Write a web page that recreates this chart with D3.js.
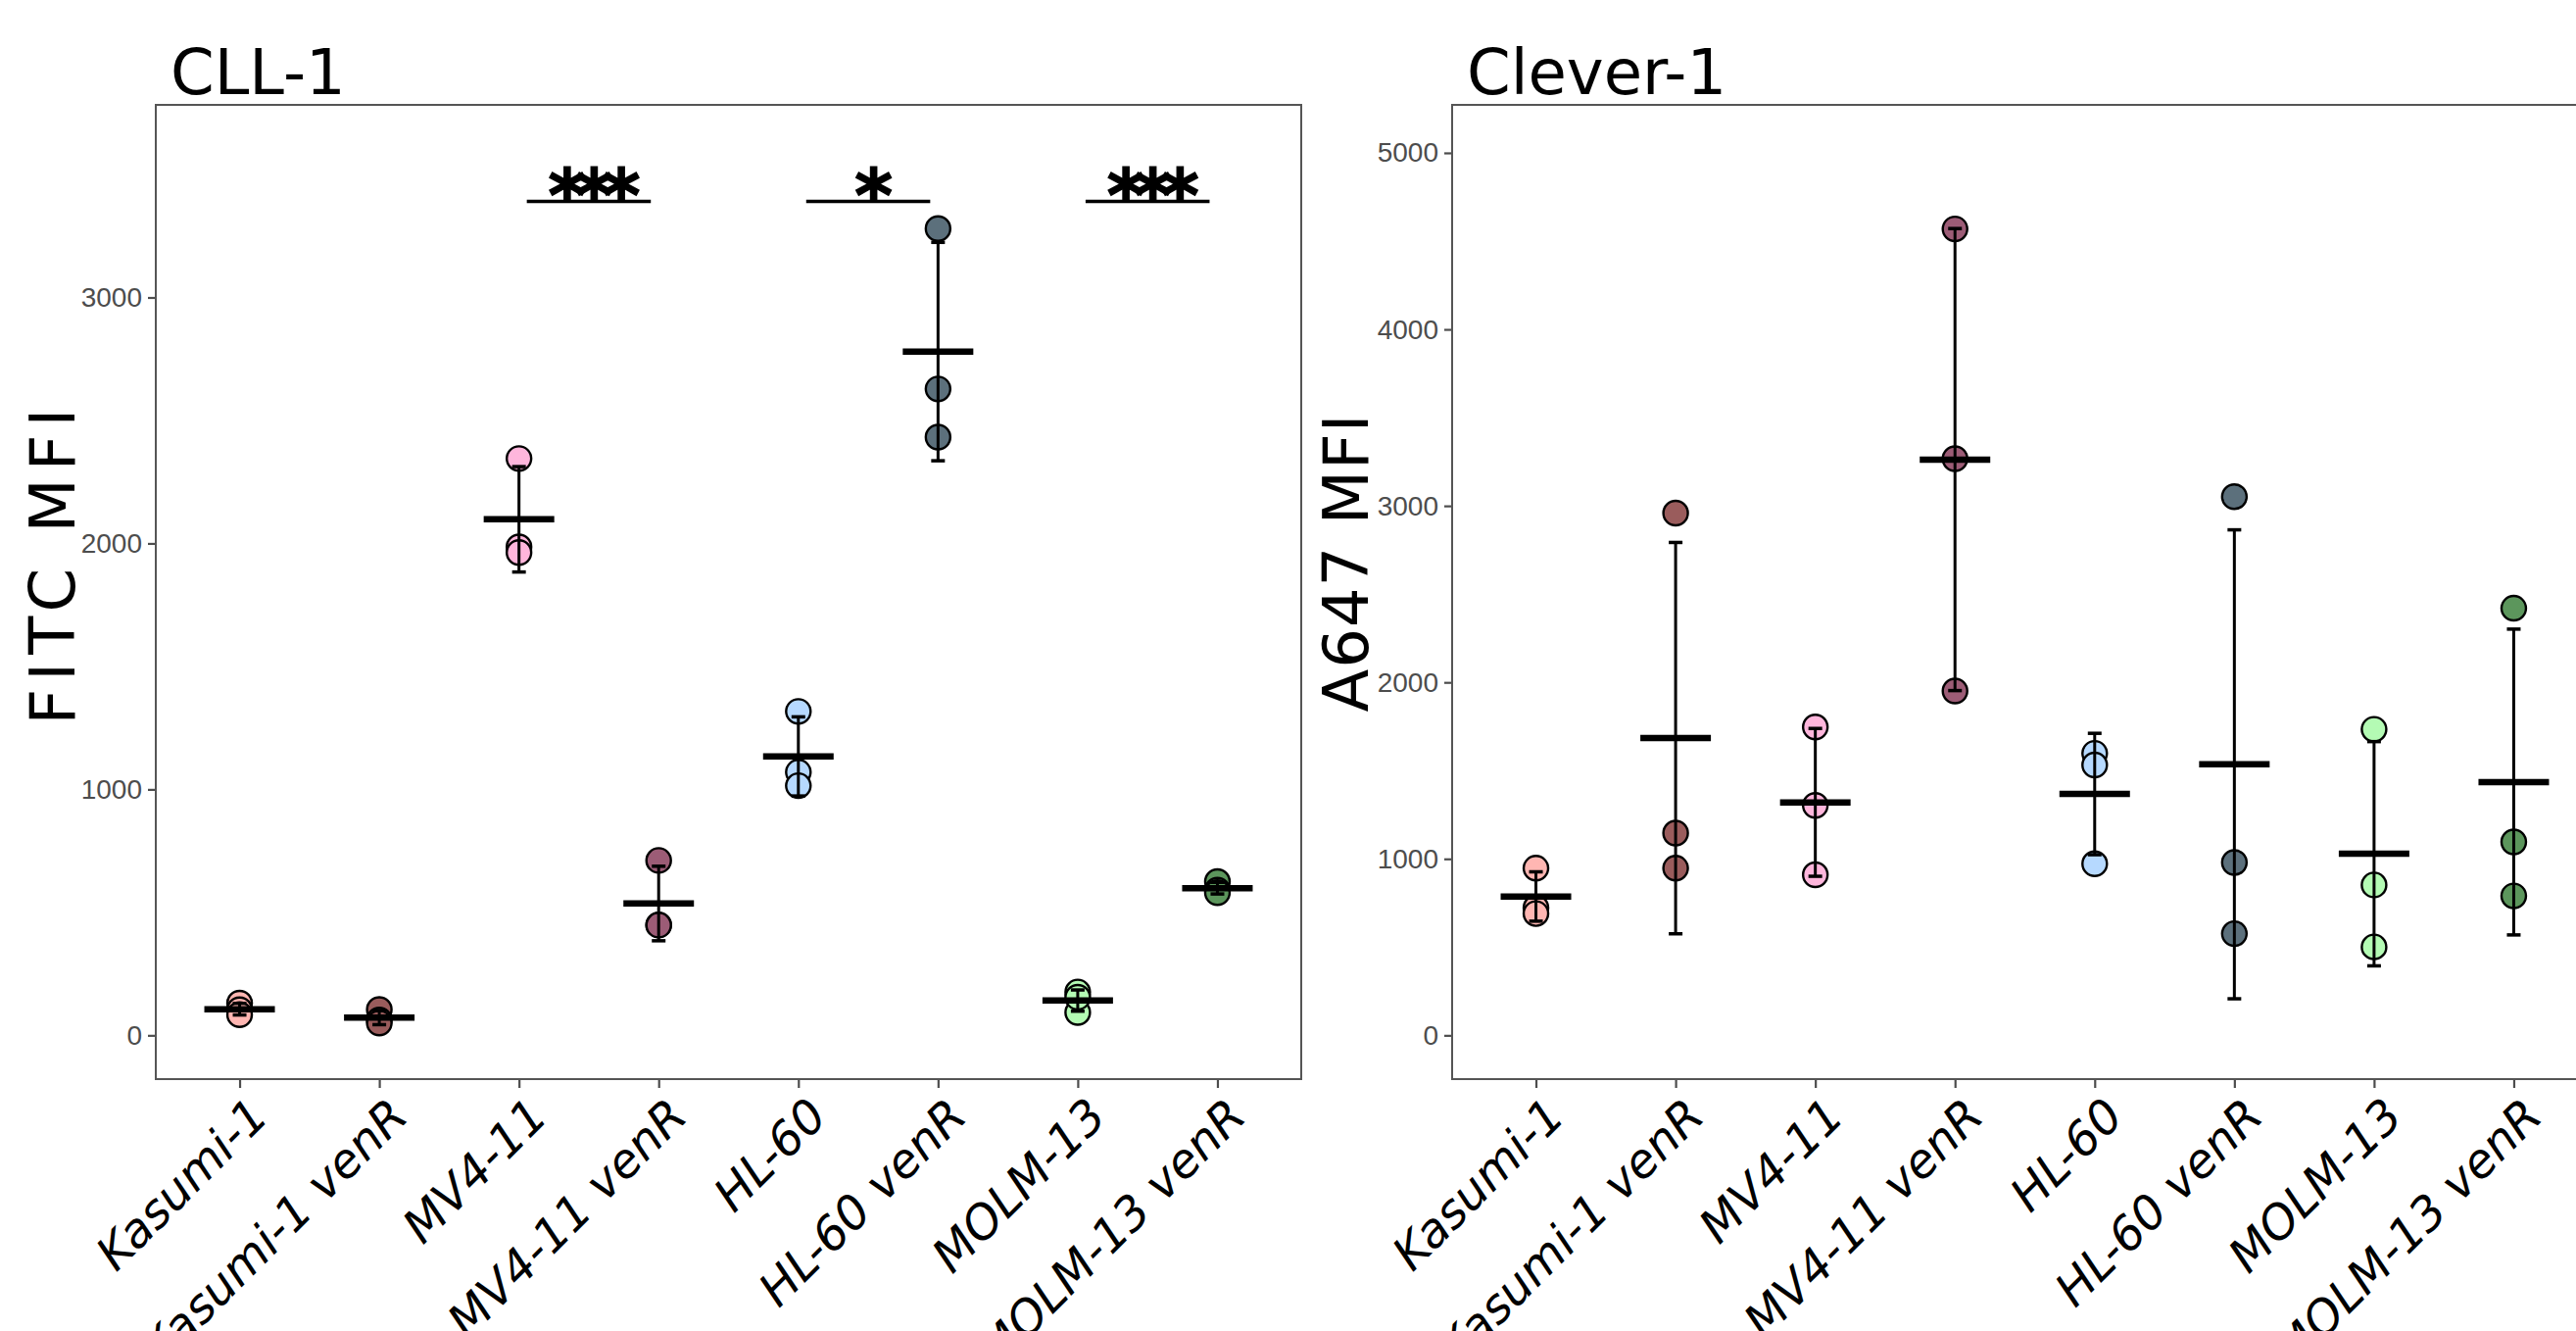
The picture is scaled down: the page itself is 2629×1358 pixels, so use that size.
<!DOCTYPE html>
<html>
<head>
<meta charset="utf-8">
<title>CLL-1 / Clever-1 MFI</title>
<script src="https://d3js.org/d3.v7.min.js"></script>
<style>
  body { margin: 0; background: #fff; }
  svg { display: block; }
</style>
</head>
<body>
<svg id="chart" width="2629" height="1358"></svg>
<script>
// categories and point colours
var categories = ["Kasumi-1", "Kasumi-1 venR", "MV4-11", "MV4-11 venR",
                  "HL-60", "HL-60 venR", "MOLM-13", "MOLM-13 venR"];
var colors = ["#ffb6b2", "#9a5c5c", "#ffb6dc", "#9c5c76",
              "#b6d9ff", "#5c707c", "#b4fbb4", "#5c965c"];

// replicate values (3 per line)
var cll1Values = [
  [131, 104, 84],
  [105, 62, 50],
  [2345, 1986, 1963],
  [711, 449, 448],
  [1317, 1070, 1015],
  [3280, 2628, 2432],
  [176, 93, 155],
  [625, 590, 580]
];
var clever1Values = [
  [947, 723, 690],
  [2959, 1146, 947],
  [1747, 1303, 910],
  [4569, 3267, 1951],
  [1598, 1532, 972],
  [3052, 979, 576],
  [1734, 852, 501],
  [2420, 1096, 790]
];

var cll1Ticks = [0, 1000, 2000, 3000];
var clever1Ticks = [0, 1000, 2000, 3000, 4000, 5000];

// significance brackets on CLL-1
var cll1Signif = [
  {from: "MV4-11", to: "MV4-11 venR", y: 3390, label: "***"},
  {from: "HL-60", to: "HL-60 venR", y: 3390, label: "*"},
  {from: "MOLM-13", to: "MOLM-13 venR", y: 3390, label: "***"}
];

var svg = d3.select("#chart");
svg.append("rect").attr("width", 2629).attr("height", 1358).attr("fill", "#fff");

var plotTop = 107, plotBottom = 1101;

function drawPanel(opt) {
  var g = svg.append("g");

  var x = d3.scalePoint()
    .domain(categories)
    .range([opt.left, opt.right])
    .padding(0.6);

  var y = d3.scaleLinear()
    .domain(opt.domain)
    .range([plotBottom, plotTop]);

  // y axis
  var yAxis = g.append("g")
    .attr("transform", "translate(" + opt.left + ",0)")
    .call(d3.axisLeft(y).tickValues(opt.ticks).tickSize(8).tickPadding(6).tickFormat(d3.format("d")));
  yAxis.select(".domain").remove();
  yAxis.selectAll(".tick line").attr("stroke", "#4d4d4d").attr("stroke-width", 2.2);
  yAxis.selectAll(".tick text")
    .attr("fill", "#4d4d4d")
    .attr("font-family", "Liberation Sans, Arial, sans-serif")
    .attr("font-size", 28);

  // x axis
  var xAxis = g.append("g")
    .attr("transform", "translate(0," + plotBottom + ")")
    .call(d3.axisBottom(x).tickSize(9).tickFormat(""));
  xAxis.select(".domain").remove();
  xAxis.selectAll(".tick line").attr("stroke", "#4d4d4d").attr("stroke-width", 2.2);

  g.selectAll(".xlab")
    .data(categories)
    .join("text")
      .attr("class", "xlab")
      .attr("transform", function(d) { return "translate(" + (x(d) + 6) + "," + (plotBottom + 15) + ") rotate(-45)"; })
      .attr("dy", "0.75em")
      .attr("text-anchor", "end")
      .attr("font-family", "DejaVu Sans, sans-serif")
      .attr("font-style", "italic")
      .attr("font-size", 48)
      .attr("fill", "#000")
      .text(function(d) { return d; });

  // panel border
  g.append("rect")
    .attr("x", opt.left)
    .attr("y", plotTop)
    .attr("width", opt.right - opt.left)
    .attr("height", plotBottom - plotTop)
    .attr("fill", "none")
    .attr("stroke", "#555")
    .attr("stroke-width", 2);

  // points
  var pts = [];
  opt.values.forEach(function(vals, i) {
    vals.forEach(function(v) { pts.push({cat: categories[i], v: v, color: colors[i]}); });
  });
  g.selectAll(".pt")
    .data(pts)
    .join("circle")
      .attr("class", "pt")
      .attr("cx", function(d) { return x(d.cat); })
      .attr("cy", function(d) { return y(d.v); })
      .attr("r", 12.5)
      .attr("fill", function(d) { return d.color; })
      .attr("stroke", "#000")
      .attr("stroke-width", 2.4);

  // mean +/- sd
  var stats = opt.values.map(function(vals, i) {
    var m = d3.mean(vals), s = d3.deviation(vals);
    return {cat: categories[i], mean: m, lo: m - s, hi: m + s};
  });

  var eb = g.selectAll(".eb").data(stats).join("g").attr("class", "eb");
  eb.append("line")
    .attr("x1", function(d) { return x(d.cat); })
    .attr("x2", function(d) { return x(d.cat); })
    .attr("y1", function(d) { return y(d.lo); })
    .attr("y2", function(d) { return y(d.hi); })
    .attr("stroke", "#000").attr("stroke-width", 3);
  ["lo", "hi"].forEach(function(k) {
    eb.append("line")
      .attr("x1", function(d) { return x(d.cat) - 7; })
      .attr("x2", function(d) { return x(d.cat) + 7; })
      .attr("y1", function(d) { return y(d[k]); })
      .attr("y2", function(d) { return y(d[k]); })
      .attr("stroke", "#000").attr("stroke-width", 3.5);
  });
  eb.append("line")
    .attr("x1", function(d) { return x(d.cat) - 36; })
    .attr("x2", function(d) { return x(d.cat) + 36; })
    .attr("y1", function(d) { return y(d.mean); })
    .attr("y2", function(d) { return y(d.mean); })
    .attr("stroke", "#000").attr("stroke-width", 6.5);

  // significance
  (opt.signif || []).forEach(function(s) {
    var x1 = x(s.from) + 8, x2 = x(s.to) - 8;
    g.append("line")
      .attr("x1", x1).attr("x2", x2)
      .attr("y1", y(s.y)).attr("y2", y(s.y))
      .attr("stroke", "#000").attr("stroke-width", 3.5);
    g.append("text")
      .attr("x", (x1 + x2) / 2)
      .attr("y", y(s.y) + 20)
      .attr("text-anchor", "middle")
      .attr("font-family", "DejaVu Sans, sans-serif")
      .attr("font-weight", "bold")
      .attr("font-size", 74)
      .attr("letter-spacing", -11)
      .attr("stroke", "#000")
      .attr("stroke-width", 1.5)
      .text(s.label);
  });

  // title
  g.append("text")
    .attr("x", opt.left + 15)
    .attr("y", 96)
    .attr("font-family", "DejaVu Sans, sans-serif")
    .attr("font-size", 64)
    .attr("fill", "#000")
    .text(opt.title);

  // y label
  g.append("text")
    .attr("transform", "translate(" + opt.ylabX + ",574) rotate(-90)")
    .attr("text-anchor", "middle")
    .attr("font-family", "DejaVu Sans, sans-serif")
    .attr("font-size", 64)
    .attr("letter-spacing", opt.ylabSpacing)
    .attr("fill", "#000")
    .text(opt.ylab);
}

drawPanel({
  left: 159, right: 1328,
  domain: [-178, 3783],
  ticks: cll1Ticks,
  values: cll1Values,
  signif: cll1Signif,
  title: "CLL-1",
  ylab: "FITC MFI",
  ylabSpacing: 8,
  ylabX: 76
});

drawPanel({
  left: 1482, right: 2651,
  domain: [-248, 5272],
  ticks: clever1Ticks,
  values: clever1Values,
  title: "Clever-1",
  ylab: "A647 MFI",
  ylabSpacing: 1,
  ylabX: 1396
});
</script>
</body>
</html>
